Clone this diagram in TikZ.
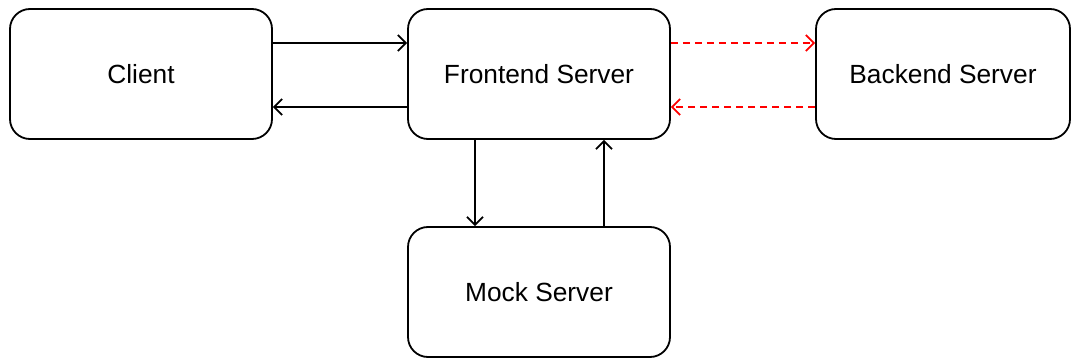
\documentclass[tikz,border=0pt]{standalone}
\usepackage{fontspec}
\setmainfont{Liberation Sans}
\usetikzlibrary{arrows.meta}
\tikzset{
  box/.style={draw, line width=1.8pt, rounded corners=20pt, minimum width=262pt, minimum height=130pt, inner sep=0pt, font=\fontsize{26.3}{30}\selectfont},
  conn/.style={line width=1.8pt, -{Straight Barb[length=8pt,width=16pt,line width=1.8pt]}},
  rconn/.style={conn, red, dash pattern=on 7pt off 5pt}
}
\begin{document}
\begin{tikzpicture}[x=1pt,y=-1pt]
\useasboundingbox (0,0) rectangle (1073,363);
\node[box] (client) at (141,74) {Client};
\node[box] (fe) at (539,74) {Frontend Server};
\node[box, minimum width=254pt] (be) at (943,74) {Backend Server};
\node[box] (mock) at (539,292) {Mock Server};
\draw[conn] ([yshift=31pt]client.east) -- ([yshift=31pt]fe.west);
\draw[conn] ([yshift=-33pt]fe.west) -- ([yshift=-33pt]client.east);
\draw[rconn] ([yshift=31pt]fe.east) -- ([yshift=31pt]be.west);
\draw[rconn] ([yshift=-33pt]be.west) -- ([yshift=-33pt]fe.east);
\draw[conn] ([xshift=-64pt]fe.south) -- ([xshift=-64pt]mock.north);
\draw[conn] ([xshift=65pt]mock.north) -- ([xshift=65pt]fe.south);
\end{tikzpicture}
\end{document}
